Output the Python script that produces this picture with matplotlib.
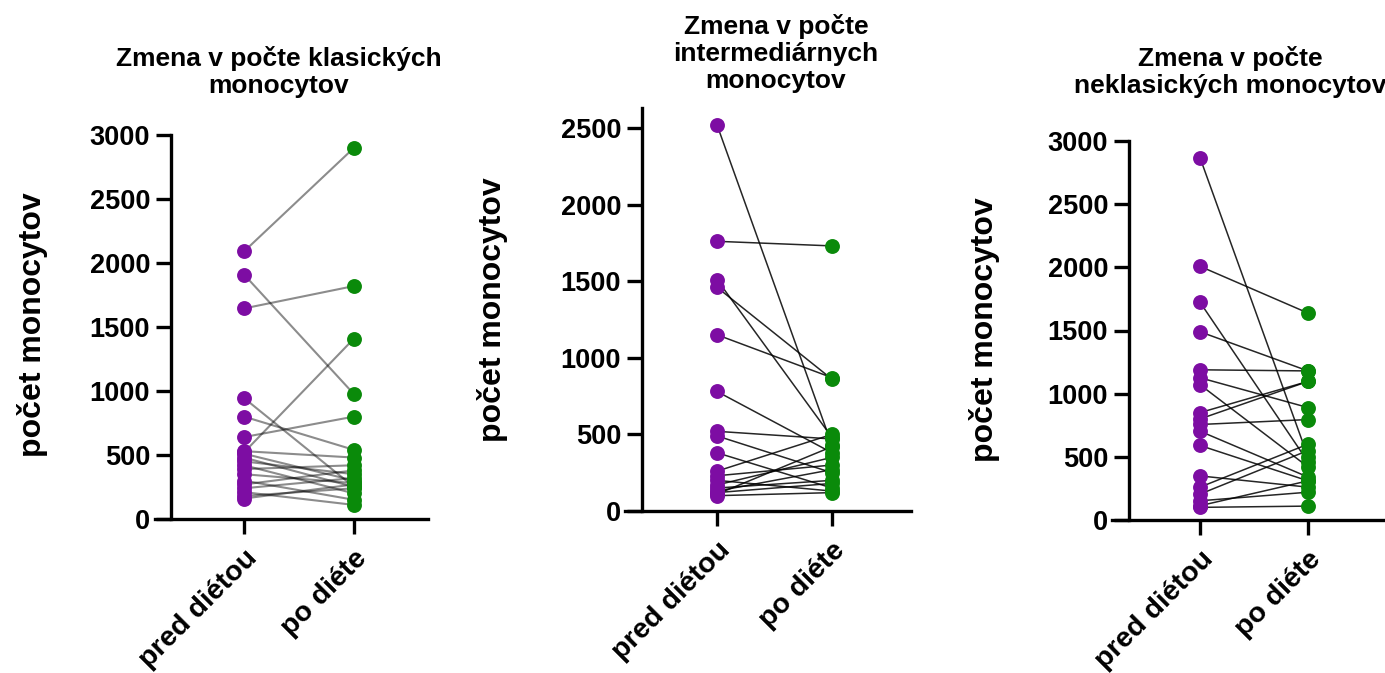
import matplotlib
matplotlib.use("Agg")
import matplotlib.pyplot as plt

plt.rcParams['font.family'] = ['Liberation Sans', 'DejaVu Sans']
plt.rcParams['font.weight'] = 'bold'

W, H = 1385, 673

groups = ["pred diétou", "po diéte"]
titles = ["Zmena v počte klasických\nmonocytov",
          "Zmena v počte\nintermediárnych\nmonocytov",
          "Zmena v počte\nneklasických monocytov"]

# klasicke monocyty
p1_pred = [2090, 1910, 1645, 520, 945, 800, 640, 530, 510, 480, 450, 420, 390, 350, 300, 270, 240, 210, 180, 160]
p1_po = [2900, 975, 1820, 1410, 250, 540, 800, 480, 300, 250, 350, 200, 420, 280, 150, 380, 320, 110, 240, 270]

# intermediarne monocyty
p2_pred = [2520, 1760, 1510, 1460, 1150, 780, 520, 490, 380, 260, 230, 200, 170, 150, 130, 120, 110, 100]
p2_po = [430, 1730, 480, 860, 870, 380, 470, 250, 150, 500, 300, 130, 350, 200, 270, 180, 420, 120]

# neklasicke monocyty
p3_pred = [2868, 2008, 1724, 1490, 1189, 1126, 1071, 850, 800, 756, 703, 590, 349, 260, 205, 152, 113, 100]
p3_po = [500, 1638, 460, 1180, 1180, 890, 420, 1097, 1097, 795, 340, 310, 260, 600, 550, 220, 310, 110]

yticks = [[0, 500, 1000, 1500, 2000, 2500, 3000],
          [0, 500, 1000, 1500, 2000, 2500],
          [0, 500, 1000, 1500, 2000, 2500, 3000]]

# pixel layout: x-axis left/right, y spine, two ticks, y bottom/top, ymax
layout = [
    (155, 428, 171, 244, 354, 519, 135, 3000),
    (625, 911, 642, 717, 832, 511, 108, 2630),
    (1112, 1383, 1129, 1200, 1308, 520, 141, 3000),
]
title_pos = [(279, 46), (776, 14), (1230, 46)]
ylabel_pos = [(33, 325), (493, 310), (985, 330)]
line_style = [dict(color="black", alpha=0.45, lw=1.5),
              dict(color="black", alpha=0.85, lw=1.1),
              dict(color="black", alpha=0.85, lw=1.1)]

purple = "#7D0DA3"
green = "#0A8A0A"

fig = plt.figure(figsize=(W / 100, H / 100), dpi=100)

data = [(p1_pred, p1_po), (p2_pred, p2_po), (p3_pred, p3_po)]
for i, (pred, po) in enumerate(data):
    xa0, xa1, ys, t0, t1, yb, yt, ymax = layout[i]
    ax = fig.add_axes([xa0 / W, (H - yb) / H, (xa1 - xa0) / W, (yb - yt) / H])
    unit = t1 - t0
    ax.set_xlim(-(t0 - xa0) / unit, 1 + (xa1 - t1) / unit)
    ax.set_ylim(0, ymax)
    for a, b in zip(pred, po):
        ax.plot([0, 1], [a, b], clip_on=False, zorder=2, **line_style[i])
    ax.scatter([0] * len(pred), pred, s=115, color=purple, zorder=3, clip_on=False, linewidths=0)
    ax.scatter([1] * len(po), po, s=115, color=green, zorder=3, clip_on=False, linewidths=0)
    ax.spines['top'].set_visible(False)
    ax.spines['right'].set_visible(False)
    ax.spines['left'].set_position(('data', (ys - t0) / unit))
    for s in ['left', 'bottom']:
        ax.spines[s].set_linewidth(2.4)
    ax.set_xticks([0, 1])
    ax.set_xticklabels(groups, rotation=45, ha='right', rotation_mode='anchor',
                       fontsize=20.5, fontweight='bold')
    ax.set_yticks(yticks[i])
    ax.set_yticklabels([str(v) for v in yticks[i]], fontsize=19.5, fontweight='bold')
    ax.tick_params(axis='y', width=2.4, length=11, pad=4)
    ax.tick_params(axis='x', width=2.4, length=11, pad=8)
    fig.text(title_pos[i][0] / W, 1 - title_pos[i][1] / H, titles[i], ha='center', va='top',
             fontsize=19, fontweight='bold', linespacing=1.15)
    fig.text(ylabel_pos[i][0] / W, 1 - ylabel_pos[i][1] / H, "počet monocytov", rotation=90,
             ha='center', va='center', fontsize=23, fontweight='bold')

fig.savefig("out.png", dpi=100)
